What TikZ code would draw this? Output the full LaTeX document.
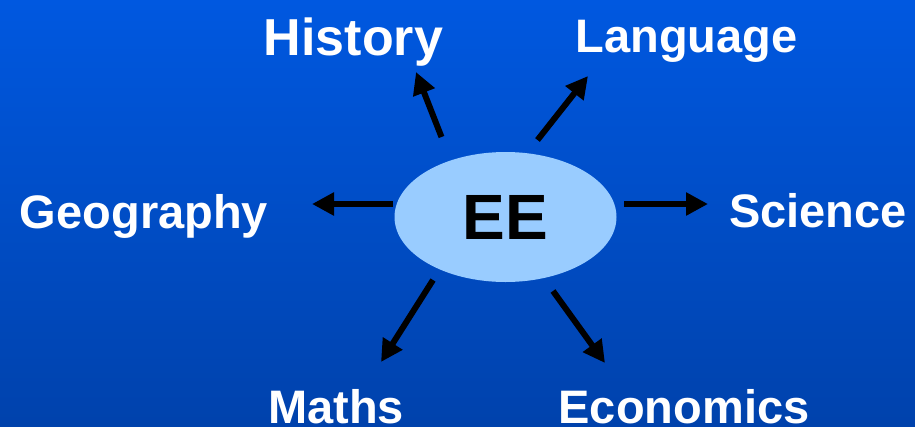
\documentclass[tikz,border=0pt]{standalone}
\usepackage{fontspec}
\setmainfont{Liberation Sans}
\usetikzlibrary{arrows.meta, shapes.geometric}
\definecolor{slidetop}{RGB}{0, 88, 224}
\definecolor{slidebottom}{RGB}{0, 66, 172}
\definecolor{eeblue}{RGB}{153, 204, 255}

\begin{document}
\begin{tikzpicture}[x=1pt, y=-1pt,
  subject/.style={white, inner sep=0pt, anchor=base, font=\fontsize{47}{50}\selectfont\bfseries},
  arr/.style={line width=6pt, -{Triangle[length=22pt, width=22pt]}}]
  \shade[top color=slidetop, bottom color=slidebottom] (0,0) rectangle (915,426);
  \useasboundingbox (0,0) rectangle (915,426);

  \node[ellipse, fill=eeblue, minimum width=222pt, minimum height=130pt, inner sep=0pt,
        font=\fontsize{64}{66}\selectfont\bfseries] (ee) at (505.5,217) {EE};

  \node[subject, font=\fontsize{52}{55}\selectfont\bfseries] (history) at (353.5,55) {History};
  \node[subject] (language) at (686.5,52) {Language};
  \node[subject] (geography) at (144,228) {Geography};
  \node[subject] (science) at (818,227) {Science};
  \node[subject] (maths) at (336,423) {Maths};
  \node[subject] (economics) at (684,423) {Economics};

  \coordinate (history-tip) at (416,72);
  \coordinate (language-tip) at (588,76);
  \coordinate (geography-tip) at (312,204);
  \coordinate (science-tip) at (708,204);
  \coordinate (maths-tip) at (381,362);
  \coordinate (economics-tip) at (605,363);

  \draw[arr] ([shift={(-64,-80)}]ee.center) -- (history-tip);
  \draw[arr] ([shift={(32,-77)}]ee.center) -- (language-tip);
  \draw[arr] ([shift={(-112.5,-13)}]ee.center) -- (geography-tip);
  \draw[arr] ([shift={(118.5,-13)}]ee.center) -- (science-tip);
  \draw[arr] ([shift={(-72.5,63)}]ee.center) -- (maths-tip);
  \draw[arr] ([shift={(47.5,74)}]ee.center) -- (economics-tip);
\end{tikzpicture}
\end{document}
